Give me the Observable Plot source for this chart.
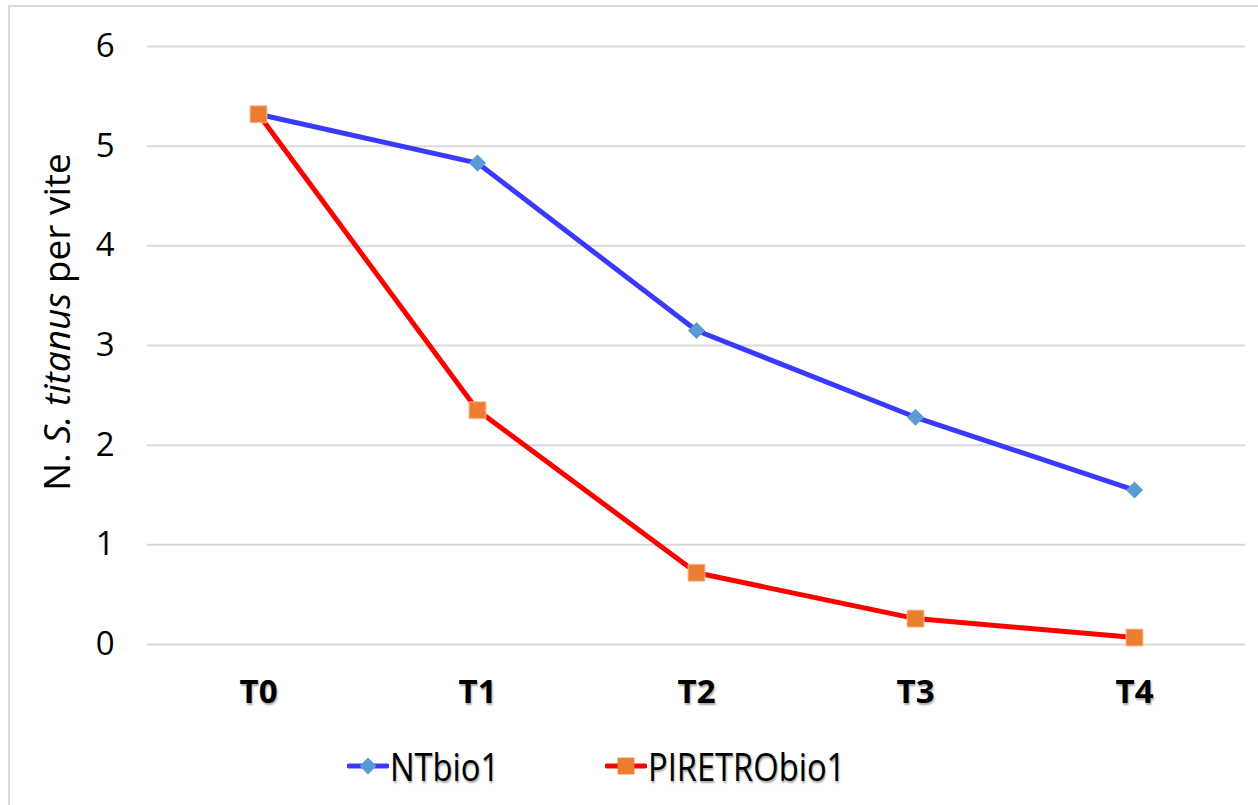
<!DOCTYPE html>
<html>
<head>
<meta charset="utf-8">
<script src="https://cdn.jsdelivr.net/npm/d3@7"></script>
<script src="https://cdn.jsdelivr.net/npm/@observablehq/plot@0.6"></script>
<style>
  html, body { margin: 0; padding: 0; background: #fff; }
  #wrap { position: relative; width: 1258px; height: 805px; overflow: hidden; }
  #border { position: absolute; left: 8px; top: 5px; width: 1400px; height: 900px;
            border-top: 2px solid #d9d9d9; border-left: 2px solid #d9d9d9; }
  #chart { position: absolute; left: 0; top: 0; width: 1258px; }
  #legend { position: absolute; left: 0; top: 720px; width: 1258px; height: 85px; }
  .leg { position: absolute; top: 20px; display: flex; align-items: center;
         font-family: "Open Sans", sans-serif;
         font-size: 38px; color: #000; text-shadow: 1px 2px 2px rgba(0,0,0,0.35); white-space: nowrap; }
  .leg span { display: inline-block; transform: scaleX(0.86); transform-origin: left center; }
  .leg svg { display: block; }
</style>
</head>
<body>
<div id="wrap">
  <div id="border"></div>
  <div id="chart"></div>
  <div id="legend"></div>
</div>
<script>
const times = ["T0", "T1", "T2", "T3", "T4"];
const seriesNames = ["NTbio1", "PIRETRObio1"];
const ntbio1 = [5.32, 4.83, 3.15, 2.28, 1.55];
const piretrobio1 = [5.32, 2.35, 0.72, 0.26, 0.07];
const yTicks = [0, 1, 2, 3, 4, 5, 6];

const lineColors = ["#3a3aff", "#ff0000"];
const markerColors = ["#5b9bd5", "#ed7d31"];

const rows = [
  ...times.map((t, i) => ({time: t, value: ntbio1[i], series: seriesNames[0]})),
  ...times.map((t, i) => ({time: t, value: piretrobio1[i], series: seriesNames[1]}))
];
const ntRows = rows.filter(d => d.series === seriesNames[0]);
const prRows = rows.filter(d => d.series === seriesNames[1]);

const chart = Plot.plot({
  width: 1258,
  height: 720,
  marginLeft: 147,
  marginRight: 13,
  marginTop: 46,
  marginBottom: 76,
  style: {background: "transparent", fontFamily: "'Open Sans', sans-serif", overflow: "visible"},
  x: {type: "point", domain: times, padding: 0.5},
  y: {domain: [0, 6], ticks: yTicks},
  marks: [
    Plot.gridY(yTicks, {stroke: "#d9d9d9", strokeOpacity: 1, strokeWidth: 2}),
    Plot.ruleX([0], {x: () => null, frameAnchor: "left", stroke: "#d9d9d9", strokeWidth: 2}),
    Plot.axisY(yTicks, {tickSize: 0, tickPadding: 33, fontSize: 33, fill: "#000", label: null, tickFormat: d => String(d)}),
    Plot.axisX({tickSize: 0, tickPadding: 35, fontSize: 33, fontWeight: "bold", fill: "#000", label: null}),
    Plot.line(ntRows, {x: "time", y: "value", stroke: lineColors[0], strokeWidth: 5}),
    Plot.line(prRows, {x: "time", y: "value", stroke: lineColors[1], strokeWidth: 5}),
    Plot.dot(ntRows, {x: "time", y: "value", symbol: "diamond2", r: 7.7, fill: markerColors[0], stroke: "none"}),
    Plot.dot(prRows, {x: "time", y: "value", symbol: "square", r: 9.5, fill: markerColors[1], stroke: "#f6b58a", strokeWidth: 1})
  ]
});
document.getElementById("chart").appendChild(chart);

// x tick label shadow
d3.select(chart).selectAll('g[aria-label="x-axis tick label"] text')
  .style("text-shadow", "1px 2px 2px rgba(0,0,0,0.35)");

// y-axis title with italic species name
const yLabel = d3.select(chart).append("text")
  .attr("transform", "translate(70,322) rotate(-90)")
  .attr("text-anchor", "middle")
  .attr("font-family", "'Open Sans', sans-serif")
  .attr("font-size", 37)
  .attr("fill", "#000");
yLabel.append("tspan").text("N. ");
yLabel.append("tspan").attr("font-style", "italic").text("S. titanus");
yLabel.append("tspan").text(" per vite");

// legend
const legend = d3.select("#legend");
const legendX = [347, 605];
seriesNames.forEach((name, i) => {
  const item = legend.append("div").attr("class", "leg").style("left", legendX[i] + "px");
  const s = item.append("svg").attr("width", 42).attr("height", 44);
  s.append("line").attr("x1", 2).attr("x2", 40).attr("y1", 22).attr("y2", 22)
    .attr("stroke", lineColors[i]).attr("stroke-width", 5).attr("stroke-linecap", "round");
  if (i === 0) {
    s.append("path").attr("d", d3.symbol(d3.symbolDiamond2, Math.PI * 7.7 * 7.7)())
      .attr("transform", "translate(21,22)").attr("fill", markerColors[0]);
  } else {
    s.append("path").attr("d", d3.symbol(d3.symbolSquare, Math.PI * 9.5 * 9.5)())
      .attr("transform", "translate(21,22)").attr("fill", markerColors[1]);
  }
  item.append("span").style("margin-left", "1px").text(name);
});
</script>
</body>
</html>
